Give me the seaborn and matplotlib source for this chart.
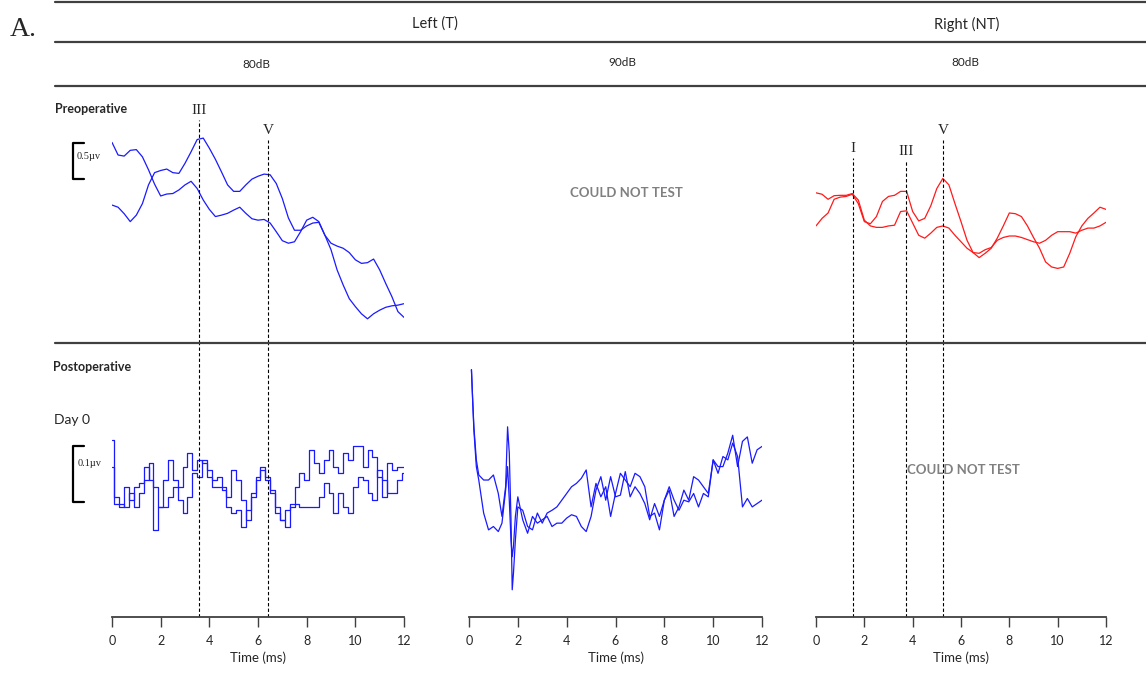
import matplotlib
matplotlib.use("Agg")
import matplotlib.pyplot as plt
import seaborn as sns

# ---- time bases (ms) ----
t_pre = [0.0, 0.25, 0.5, 0.75, 1.0, 1.25, 1.5, 1.75, 2.0, 2.25, 2.5, 2.75, 3.0, 3.25, 3.5, 3.75,
         4.0, 4.25, 4.5, 4.75, 5.0, 5.25, 5.5, 5.75, 6.0, 6.25, 6.5, 6.75, 7.0, 7.25, 7.5, 7.75,
         8.0, 8.25, 8.5, 8.75, 9.0, 9.25, 9.5, 9.75, 10.0, 10.25, 10.5, 10.75, 11.0, 11.25, 11.5,
         11.75, 12.0]
t_post_left = [0.0, 0.2, 0.4, 0.6, 0.8, 1.0, 1.2, 1.4, 1.6, 1.8, 2.0, 2.2, 2.4, 2.6, 2.8, 3.0,
               3.2, 3.4, 3.6, 3.8, 4.0, 4.2, 4.4, 4.6, 4.8, 5.0, 5.2, 5.4, 5.6, 5.8, 6.0, 6.2,
               6.4, 6.6, 6.8, 7.0, 7.2, 7.4, 7.6, 7.8, 8.0, 8.2, 8.4, 8.6, 8.8, 9.0, 9.2, 9.4,
               9.6, 9.8, 10.0, 10.2, 10.4, 10.6, 10.8, 11.0, 11.2, 11.4, 11.6, 11.8, 12.0]
t_post_mid = [0.1, 0.15, 0.2, 0.3, 0.4, 0.6, 0.8, 1.0, 1.2, 1.35, 1.5, 1.58, 1.65, 1.72, 1.77,
              1.82, 1.9, 2.0, 2.2, 2.4, 2.6, 2.8, 3.0, 3.2, 3.4, 3.6, 3.8, 4.0, 4.2, 4.4, 4.6,
              4.8, 5.0, 5.2, 5.4, 5.6, 5.8, 6.0, 6.2, 6.4, 6.6, 6.8, 7.0, 7.2, 7.4, 7.6, 7.8,
              8.0, 8.2, 8.4, 8.6, 8.8, 9.0, 9.2, 9.4, 9.6, 9.8, 10.0, 10.2, 10.4, 10.6, 10.8,
              11.0, 11.2, 11.4, 11.6, 11.8, 12.0]

# ---- preoperative amplitudes (uV) ----
left_pre_a = [0.80, 0.625, 0.61, 0.69, 0.70, 0.60, 0.42, 0.22, 0.056, 0.083, 0.09, 0.14, 0.21,
              0.26, 0.16, 0.0, -0.13, -0.23, -0.21, -0.185, -0.14, -0.10, -0.185, -0.26, -0.28,
              -0.27, -0.32, -0.44, -0.565, -0.60, -0.58, -0.44, -0.28, -0.24, -0.30, -0.49,
              -0.69, -0.97, -1.18, -1.37, -1.48, -1.58, -1.65, -1.58, -1.53, -1.49, -1.47,
              -1.46, -1.44]
left_pre_b = [-0.07, -0.10, -0.19, -0.30, -0.21, -0.05, 0.21, 0.38, 0.41, 0.43, 0.38, 0.37,
              0.51, 0.67, 0.84, 0.86, 0.72, 0.565, 0.39, 0.21, 0.12, 0.12, 0.21, 0.29, 0.33,
              0.36, 0.35, 0.23, 0.02, -0.25, -0.42, -0.42, -0.36, -0.32, -0.31, -0.49, -0.60,
              -0.64, -0.67, -0.73, -0.83, -0.88, -0.87, -0.82, -0.97, -1.16, -1.34, -1.55, -1.63]
right_pre_a = [-0.36, -0.255, -0.18, 0.01, 0.04, 0.05, 0.08, -0.05, -0.30, -0.33, -0.23, -0.02,
               0.05, 0.065, 0.12, 0.12, -0.16, -0.29, -0.255, -0.08, 0.16, 0.30, 0.21, -0.05,
               -0.30, -0.56, -0.73, -0.80, -0.74, -0.67, -0.53, -0.36, -0.18, -0.19, -0.23,
               -0.36, -0.52, -0.67, -0.86, -0.93, -0.95, -0.93, -0.74, -0.51, -0.36, -0.255,
               -0.18, -0.10, -0.13]
right_pre_b = [0.10, 0.08, 0.01, 0.06, 0.065, 0.065, 0.09, 0.0, -0.28, -0.36, -0.38, -0.38,
               -0.36, -0.35, -0.16, -0.15, -0.32, -0.49, -0.53, -0.46, -0.38, -0.36, -0.39,
               -0.49, -0.58, -0.67, -0.73, -0.74, -0.69, -0.66, -0.56, -0.52, -0.50, -0.50,
               -0.52, -0.55, -0.58, -0.60, -0.56, -0.49, -0.44, -0.44, -0.44, -0.46, -0.42,
               -0.39, -0.39, -0.36, -0.31]

# ---- postoperative day 0 amplitudes (uV) ----
left_post_a = [0.063, -0.039, -0.057, -0.021, -0.045, -0.021, -0.015, 0.015, -0.009, -0.098,
               -0.057, -0.009, 0.027, -0.009, -0.021, 0.015, 0.039, 0.009, 0.027, 0.021,
               -0.003, -0.009, -0.003, -0.021, -0.039, 0.009, -0.009, -0.045, -0.080, -0.033,
               -0.003, 0.015, -0.009, -0.027, -0.068, -0.080, -0.063, -0.051, -0.021, 0.003,
               -0.009, 0.045, 0.021, 0.003, 0.027, 0.045, 0.015, 0.003, 0.039, 0.027,
               0.051, 0.051, 0.015, 0.045, 0.033, -0.003, -0.039, 0.021, 0.009, 0.015, 0.015]
left_post_b = [0.015, -0.051, -0.051, -0.057, -0.033, -0.057, -0.033, -0.009, 0.021, -0.021,
               -0.057, -0.057, -0.039, -0.021, -0.045, -0.068, -0.039, 0.003, -0.003, 0.027,
               0.009, -0.021, -0.021, -0.027, -0.057, -0.068, -0.063, -0.092, -0.063, -0.039,
               -0.009, 0.009, -0.003, -0.033, -0.057, -0.080, -0.092, -0.057, -0.051, -0.057,
               -0.057, -0.057, -0.057, -0.039, -0.015, -0.033, -0.068, -0.033, -0.057, -0.068,
               -0.021, -0.003, -0.009, -0.033, -0.045, 0.009, -0.009, -0.033, -0.033, -0.009,
               0.003]
mid_post_a = [0.188, 0.134, 0.086, 0.027, 0.0, -0.009, -0.009, 0.0, -0.033, -0.074, -0.021,
              0.086, 0.039, -0.080, -0.205, -0.176, -0.116, -0.057, -0.063, -0.092, -0.098,
              -0.068, -0.086, -0.068, -0.063, -0.057, -0.045, -0.033, -0.021, -0.015, -0.006,
              0.009, -0.057, -0.015, -0.039, -0.021, -0.074, -0.033, 0.003, -0.009, -0.021,
              0.003, -0.003, -0.021, -0.074, -0.068, -0.098, -0.045, -0.027, -0.074, -0.057,
              -0.027, -0.045, -0.003, -0.009, -0.021, -0.033, 0.027, 0.015, 0.015, 0.039,
              0.071, 0.015, 0.060, 0.068, 0.021, 0.045, 0.051]
mid_post_b = [0.188, 0.134, 0.080, 0.015, -0.009, -0.068, -0.098, -0.092, -0.101, -0.086,
              -0.027, 0.015, -0.045, -0.116, -0.146, -0.128, -0.074, -0.039, -0.080, -0.104,
              -0.074, -0.086, -0.080, -0.074, -0.092, -0.086, -0.086, -0.077, -0.071, -0.074,
              -0.092, -0.101, -0.074, -0.027, -0.003, -0.045, -0.003, -0.039, -0.036, 0.006,
              -0.039, -0.021, -0.033, -0.051, -0.080, -0.051, -0.074, -0.045, -0.021, -0.045,
              -0.063, -0.045, -0.048, -0.033, -0.057, -0.033, -0.039, 0.027, 0.003, 0.033,
              0.027, 0.057, 0.033, -0.057, -0.042, -0.057, -0.051, -0.045]

# ---- peak markers (ms) ----
left_peaks = {"III": 3.57, "V": 6.43}
right_peaks = {"I": 1.52, "III": 3.71, "V": 5.27}
time_ticks = [0, 2, 4, 6, 8, 10, 12]

W, H = 1146, 694
BLUE, RED = "#1a1aff", "#ff1a1a"
RULE = "#404040"
PRE_LIM = (-1.986, 1.528)
POST_LIM = (-0.2536, 0.2357)
DASH = (0, (3, 2))

sns.set_style("white")
plt.rcParams["font.family"] = ["Lato", "DejaVu Sans"]
SERIF = "Liberation Serif"

fig = plt.figure(figsize=(W / 100, H / 100), dpi=100)


def fx(px):
    return px / W


def fy(py):
    return 1 - py / H


def txt(px, py, s, **kw):
    fig.text(fx(px), fy(py), s, va="center", **kw)


cols = [(112, 404), (469, 762), (816, 1106)]
pre_axes, post_axes = [], []
for x0, x1 in cols:
    pa = fig.add_axes([fx(x0), fy(343), fx(x1) - fx(x0), (343 - 90) / H])
    qa = fig.add_axes([fx(x0), fy(617), fx(x1) - fx(x0), (617 - 343) / H])
    for ax in (pa, qa):
        ax.set_xlim(0, 12)
        ax.patch.set_alpha(0)
        for s in ax.spines.values():
            s.set_visible(False)
        ax.set_yticks([])
    pa.set_ylim(*PRE_LIM)
    pa.set_xticks([])
    qa.set_ylim(*POST_LIM)
    qa.spines["bottom"].set_visible(True)
    qa.spines["bottom"].set_color(RULE)
    qa.spines["bottom"].set_linewidth(1.3)
    qa.set_xticks(time_ticks)
    qa.tick_params(axis="x", direction="out", length=7, width=1, color=RULE,
                   labelsize=9, pad=6, bottom=True)
    pre_axes.append(pa)
    post_axes.append(qa)

# traces
kw = dict(lw=0.9, estimator=None, sort=False, legend=False)
sns.lineplot(x=t_pre, y=left_pre_a, ax=pre_axes[0], color=BLUE, **kw)
sns.lineplot(x=t_pre, y=left_pre_b, ax=pre_axes[0], color=BLUE, **kw)
sns.lineplot(x=t_pre, y=right_pre_a, ax=pre_axes[2], color=RED, **kw)
sns.lineplot(x=t_pre, y=right_pre_b, ax=pre_axes[2], color=RED, **kw)
sns.lineplot(x=t_post_left, y=left_post_a, ax=post_axes[0], color=BLUE, drawstyle="steps-mid", **kw)
sns.lineplot(x=t_post_left, y=left_post_b, ax=post_axes[0], color=BLUE, drawstyle="steps-mid", **kw)
sns.lineplot(x=t_post_mid, y=mid_post_a, ax=post_axes[1], color=BLUE, **kw)
sns.lineplot(x=t_post_mid, y=mid_post_b, ax=post_axes[1], color=BLUE, **kw)
for ax in pre_axes:
    ax.set_xlabel("")
    ax.set_ylabel("")
for ax in post_axes:
    ax.set_ylabel("")
    ax.set_xlabel("Time (ms)", fontsize=9.5, labelpad=3)

# peak lines and labels
left_label_y = {"III": 1.24, "V": 0.96}
right_label_y = {"I": 0.72, "III": 0.68, "V": 0.96}
for name, t in left_peaks.items():
    top = left_label_y[name] - 0.13
    pre_axes[0].vlines(t, PRE_LIM[0], top, colors="k", lw=0.8, linestyles=DASH)
    post_axes[0].axvline(t, color="k", lw=0.8, ls=DASH)
    pre_axes[0].text(t, left_label_y[name], name, ha="center", va="center",
                     family=SERIF, fontsize=11)
for name, t in right_peaks.items():
    top = right_label_y[name] - 0.13
    pre_axes[2].vlines(t, PRE_LIM[0], top, colors="k", lw=0.8, linestyles=DASH)
    post_axes[2].axvline(t, color="k", lw=0.8, ls=DASH)
    pre_axes[2].text(t, right_label_y[name], name, ha="center", va="center",
                     family=SERIF, fontsize=11)

# amplitude scale bars
pre_axes[0].plot([-1.15, -1.62, -1.62, -1.15], [0.79, 0.79, 0.29, 0.29],
                 color="k", lw=1.6, clip_on=False)
pre_axes[0].text(-1.44, 0.60, "0.5µv", family=SERIF, fontsize=7.5, va="center")
post_axes[0].plot([-1.15, -1.62, -1.62, -1.15], [0.052, 0.052, -0.048, -0.048],
                  color="k", lw=1.6, clip_on=False)
post_axes[0].text(-1.40, 0.021, "0.1µv", family=SERIF, fontsize=7.5, va="center")

# table-style header rules
for y in (2, 42, 86, 343):
    fig.add_artist(plt.Line2D([fx(55), 1], [fy(y), fy(y)], color=RULE, lw=1.6))

txt(10, 30, "A.", family=SERIF, fontsize=20)
txt(435, 24, "Left (T)", ha="center", fontsize=10.5)
txt(967, 24, "Right (NT)", ha="center", fontsize=10.5)
txt(256, 64, "80dB", ha="center", fontsize=8.5)
txt(622, 62, "90dB", ha="center", fontsize=8.5)
txt(965, 62, "80dB", ha="center", fontsize=8.5)
txt(55, 109, "Preoperative", fontweight="bold", fontsize=9)
txt(53, 367, "Postoperative", fontweight="bold", fontsize=9)
txt(54, 420, "Day 0", fontsize=10)
txt(626, 193, "COULD NOT TEST", ha="center", fontweight="bold", fontsize=9.5, color="#808080")
txt(963, 470, "COULD NOT TEST", ha="center", fontweight="bold", fontsize=9.5, color="#808080")

fig.savefig("out.png", dpi=100)
